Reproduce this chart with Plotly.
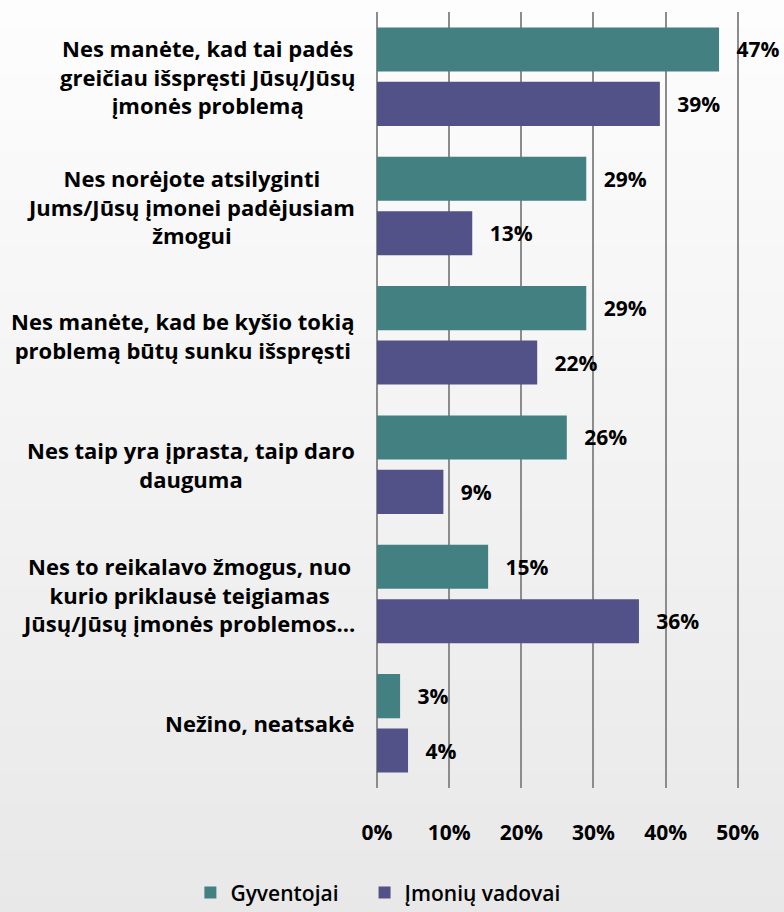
import plotly.graph_objects as go

categories = [
    "Nes manėte, kad tai padės<br>greičiau išspręsti Jūsų/Jūsų<br>įmonės problemą",
    "Nes norėjote atsilyginti<br>Jums/Jūsų įmonei padėjusiam<br>žmogui",
    "Nes manėte, kad be kyšio tokią<br>problemą būtų sunku išspręsti",
    "Nes taip yra įprasta, taip daro<br>dauguma",
    "Nes to reikalavo žmogus, nuo<br>kurio priklausė teigiamas<br>Jūsų/Jūsų įmonės problemos...",
    "Nežino, neatsakė",
]
series_names = ["Gyventojai", "Įmonių vadovai"]
gyventojai = [0.474, 0.29, 0.29, 0.263, 0.154, 0.032]
vadovai = [0.392, 0.132, 0.222, 0.092, 0.363, 0.043]
gyventojai_labels = ["47%", "29%", "29%", "26%", "15%", "3%"]
vadovai_labels = ["39%", "13%", "22%", "9%", "36%", "4%"]
tick_vals = [0, 0.1, 0.2, 0.3, 0.4, 0.5]
tick_text = ["0%", "10%", "20%", "30%", "40%", "50%"]

colors = ["#428082", "#525288"]
FONT = "Open Sans"
keys = [f"c{i}" for i in range(len(categories))]
pad = "\u00a0\u00a0\u2009"

fig = go.Figure()
for name, vals, labs, col in [
    (series_names[0], gyventojai, gyventojai_labels, colors[0]),
    (series_names[1], vadovai, vadovai_labels, colors[1]),
]:
    fig.add_trace(go.Bar(
        y=keys, x=vals, orientation="h", name=name + "\u2003",
        marker=dict(color=col, line=dict(width=0)),
        text=[pad + l for l in labs], textposition="outside",
        constraintext="none", cliponaxis=False,
        textfont=dict(family=FONT, size=21, color="#000000", weight="bold"),
    ))

# background gradient (style only)
shapes = []
n = 60
y_top, y_bot = 1.02, -0.18
top = (253, 253, 253)
bot = (232, 232, 232)
for i in range(n):
    t = i / (n - 1)
    c = tuple(round(top[k] + (bot[k] - top[k]) * t) for k in range(3))
    y1 = y_top - (y_top - y_bot) * i / n
    y0 = y_top - (y_top - y_bot) * (i + 1) / n - 0.005
    if i == 0:
        y1 += 0.05
    if i == n - 1:
        y0 = y_bot - 0.05
    shapes.append(dict(type="rect", xref="paper", yref="paper",
                       x0=-1, x1=1, y0=y0, y1=y1,
                       fillcolor="rgb(%d,%d,%d)" % c, line=dict(width=0), layer="below"))

annotations = []
for k, cat in zip(keys, categories):
    annotations.append(dict(x=-0.05, xref="paper", y=k, yref="y", text=cat,
                            xanchor="right", yanchor="middle", align="center",
                            showarrow=False,
                            font=dict(family=FONT, size=22, color="#000000", weight="bold")))

fig.update_layout(
    width=784, height=912,
    margin=dict(l=377, r=0, t=12, b=124, autoexpand=False),
    barmode="group", bargap=0.158, bargroupgap=0.19,
    paper_bgcolor="rgba(0,0,0,0)", plot_bgcolor="rgba(0,0,0,0)",
    shapes=shapes, annotations=annotations,
    showlegend=True,
    legend=dict(orientation="h", x=0.028, xanchor="center",
                y=-0.135, yanchor="middle",
                font=dict(family=FONT, size=21, color="#000000", weight=600),
                bgcolor="rgba(0,0,0,0)", itemwidth=30),
    xaxis=dict(range=[0, 0.564], tickvals=tick_vals, ticktext=tick_text,
               showgrid=True, gridcolor="#8C8C8C", gridwidth=2,
               zeroline=True, zerolinecolor="#8C8C8C", zerolinewidth=2,
               showline=False, ticks="", ticklabelstandoff=30,
               tickfont=dict(family=FONT, size=21, color="#000000", weight="bold")),
    yaxis=dict(categoryorder="array", categoryarray=keys, autorange="reversed",
               showticklabels=False, showgrid=False, zeroline=False, showline=False),
)

fig.write_html("out.html", config={"displayModeBar": False},
               post_script="document.body.style.margin='0';")
